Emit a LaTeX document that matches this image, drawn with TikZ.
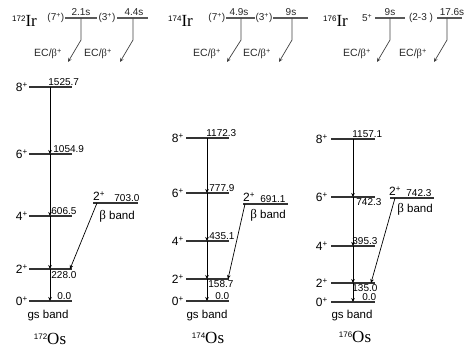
\documentclass[tikz,border=0pt]{standalone}
\usepackage{fontspec}
\setmainfont{Liberation Sans}
\newfontfamily\serif{Liberation Serif}
\usetikzlibrary{arrows.meta}
\newcommand{\spl}[1]{\textsuperscript{#1}}
\begin{document}
\begin{tikzpicture}[x=1pt,y=-1pt,
  lev/.style={line width=1.1pt,draw=black!80},
  tlev/.style={line width=1.1pt,draw=black!65},
  tr/.style={line width=0.7pt,-{Stealth[length=4pt,width=3.6pt]}},
  dec/.style={line width=0.7pt,draw=black!75,-{Stealth[length=4pt,width=3.6pt]}},
  spin/.style={font=\fontsize{12}{12}\selectfont,inner sep=0pt},
  en/.style={font=\fontsize{10}{10}\selectfont,inner sep=0.2pt},
  small/.style={font=\fontsize{10}{10}\selectfont,inner sep=0.5pt,text=black!85},
  ec/.style={font=\fontsize{10.5}{11}\selectfont,inner sep=0.5pt,text=black!85},
  band/.style={font=\fontsize{11.5}{12}\selectfont,inner sep=0pt},
  nuc/.style={inner sep=0pt}]
\useasboundingbox (0,0) rectangle (467,347);

% ================= Ir decays ==================
% panel 1
\node[nuc,anchor=base west] (ir1) at (12,27) {\raisebox{5pt}{\fontsize{8}{8}\selectfont 172}{\serif\fontsize{17}{17}\selectfont Ir}};
\node[small,anchor=east] (s11) at (65,18) {(7\spl{+})};
\node[small,anchor=center] (s12) at (107,18) {(3\spl{+})};
\coordinate (l11a) at (65,18); \coordinate (l11b) at (97,18);
\coordinate (l12a) at (117,18); \coordinate (l12b) at (148,18);
\draw[tlev] (l11a) -- (l11b);
\draw[tlev] (l12a) -- (l12b);
\node[small,anchor=south] (h11) at (81,16.5) {2.1s};
\node[small,anchor=south] (h12) at (134,16.5) {4.4s};
\coordinate (d11a) at (81,18); \coordinate (d11b) at (81,40); \coordinate (d11c) at (68,62);
\coordinate (d12a) at (133,18); \coordinate (d12b) at (133,40); \coordinate (d12c) at (120,62);
\draw[dec] (d11a) -- (d11b) -- (d11c);
\draw[dec] (d12a) -- (d12b) -- (d12c);
\node[ec,anchor=center] (e11) at (48,54) {EC/{\serif β}\spl{+}};
\node[ec,anchor=center] (e12) at (98,54) {EC/{\serif β}\spl{+}};

% panel 2
\node[nuc,anchor=base west] (ir2) at (168,27) {\raisebox{5pt}{\fontsize{8}{8}\selectfont 174}{\serif\fontsize{17}{17}\selectfont Ir}};
\node[small,anchor=east] (s21) at (226,18) {(7\spl{+})};
\node[small,anchor=center] (s22) at (264,18) {(3\spl{+})};
\coordinate (l21a) at (226,18); \coordinate (l21b) at (255,18);
\coordinate (l22a) at (273,18); \coordinate (l22b) at (308,18);
\draw[tlev] (l21a) -- (l21b);
\draw[tlev] (l22a) -- (l22b);
\node[small,anchor=south] (h21) at (239,16.5) {4.9s};
\node[small,anchor=south] (h22) at (291,16.5) {9s};
\coordinate (d21a) at (241,18); \coordinate (d21b) at (241,40); \coordinate (d21c) at (227,62);
\coordinate (d22a) at (292,18); \coordinate (d22b) at (292,40); \coordinate (d22c) at (279,62);
\draw[dec] (d21a) -- (d21b) -- (d21c);
\draw[dec] (d22a) -- (d22b) -- (d22c);
\node[ec,anchor=center] (e21) at (207,54) {EC/{\serif β}\spl{+}};
\node[ec,anchor=center] (e22) at (257,54) {EC/{\serif β}\spl{+}};

% panel 3
\node[nuc,anchor=base west] (ir3) at (323,27) {\raisebox{5pt}{\fontsize{8}{8}\selectfont 176}{\serif\fontsize{17}{17}\selectfont Ir}};
\node[small,anchor=east] (s31) at (373,18) {5\spl{+}};
\node[small,anchor=center] (s32) at (421,18) {(2-3 )};
\coordinate (l31a) at (375,18); \coordinate (l31b) at (405,18);
\coordinate (l32a) at (437,18); \coordinate (l32b) at (462,18);
\draw[tlev] (l31a) -- (l31b);
\draw[tlev] (l32a) -- (l32b);
\node[small,anchor=south] (h31) at (390,16.5) {9s};
\node[small,anchor=south] (h32) at (452,16.5) {17.6s};
\coordinate (d31a) at (390,18); \coordinate (d31b) at (390,40); \coordinate (d31c) at (377,62);
\coordinate (d32a) at (447,18); \coordinate (d32b) at (447,40); \coordinate (d32c) at (434,62);
\draw[dec] (d31a) -- (d31b) -- (d31c);
\draw[dec] (d32a) -- (d32b) -- (d32c);
\node[ec,anchor=center] (e31) at (357,54) {EC/{\serif β}\spl{+}};
\node[ec,anchor=center] (e32) at (413,54) {EC/{\serif β}\spl{+}};

% ================= 172Os ==================
\foreach \n/\y in {8/87,6/154,4/216,2/269,0/301}{
  \draw[lev] (29,\y) coordinate (a\n l) -- (72,\y) coordinate (a\n r);
  \coordinate (a\n) at (50,\y);
  \node[spin,anchor=base east] (as\n) at (28,\y+5) {\n\spl{+}};
}
\draw[tr] (a8) -- (a6);
\draw[tr] (a6) -- (a4);
\draw[tr] (a4) -- (a2);
\draw[tr] (a2) -- (a0);
\node[en,anchor=south west] (ae8) at (48,86.5) {1525.7};
\node[en,anchor=south west] (ae6) at (53,153.5) {1054.9};
\node[en,anchor=south west] (ae4) at (51,215.5) {606.5};
\node[en,anchor=north west] (ae2) at (51,271) {228.0};
\node[en,anchor=south west] (ae0) at (57,300.5) {0.0};
\draw[lev] (93,203) coordinate (abl) -- (138,203) coordinate (abr);
\coordinate (ab) at (97,203);
\coordinate (a2t) at (70,269);
\draw[tr] (ab) -- (a2t);
\node[spin,anchor=base west] (abs) at (93,201) {2\spl{+}};
\node[en,anchor=south west] (abe) at (114,202.5) {703.0};
\node[band] (abn) at (117,216) {{\serif\fontsize{13}{13}\selectfont β} band};
\node[band] (agn) at (48,316) {gs band};
\node[nuc] (aos) at (50,339) {\raisebox{5pt}{\fontsize{8}{8}\selectfont 172}{\serif\fontsize{17}{17}\selectfont Os}};

% ================= 174Os ==================
\foreach \n/\y in {8/138,6/193,4/241,2/279,0/301}{
  \draw[lev] (186,\y) coordinate (b\n l) -- (229,\y) coordinate (b\n r);
  \coordinate (b\n) at (207,\y);
  \node[spin,anchor=base east] (bs\n) at (184,\y+5) {\n\spl{+}};
}
\draw[tr] (b8) -- (b6);
\draw[tr] (b6) -- (b4);
\draw[tr] (b4) -- (b2);
\draw[tr] (b2) -- (b0);
\node[en,anchor=south west] (be8) at (206,137.5) {1172.3};
\node[en,anchor=south west] (be6) at (209,192.5) {777.9};
\node[en,anchor=south west] (be4) at (209,240.5) {435.1};
\node[en,anchor=north west] (be2) at (208,280.5) {158.7};
\node[en,anchor=south west] (be0) at (215,300.5) {0.0};
\draw[lev] (243,204) coordinate (bbl) -- (288,204) coordinate (bbr);
\coordinate (bb) at (245,204);
\coordinate (b2t) at (228,279);
\draw[tr] (bb) -- (b2t);
\node[spin,anchor=base west] (bbs) at (243,202) {2\spl{+}};
\node[en,anchor=south west] (bbe) at (260,203.5) {691.1};
\node[band] (bbn) at (268,215) {{\serif\fontsize{13}{13}\selectfont β} band};
\node[band] (bgn) at (207,316) {gs band};
\node[nuc] (bos) at (208,338) {\raisebox{5pt}{\fontsize{8}{8}\selectfont 174}{\serif\fontsize{17}{17}\selectfont Os}};

% ================= 176Os ==================
\foreach \n/\y in {8/139,6/197,4/246,2/283,0/302}{
  \draw[lev] (331,\y) coordinate (c\n l) -- (375,\y) coordinate (c\n r);
  \coordinate (c\n) at (353,\y);
  \node[spin,anchor=base east] (cs\n) at (328,\y+5) {\n\spl{+}};
}
\draw[tr] (c8) -- (c6);
\draw[tr] (c6) -- (c4);
\draw[tr] (c4) -- (c2);
\draw[tr] (c2) -- (c0);
\node[en,anchor=south west] (ce8) at (352,138.5) {1157.1};
\node[en,anchor=north west] (ce6) at (356,198.5) {742.3};
\node[en,anchor=south west] (ce4) at (352,245.5) {395.3};
\node[en,anchor=north west] (ce2) at (352,284) {135.0};
\node[en,anchor=south west] (ce0) at (362,301.5) {0.0};
\draw[lev] (390,198) coordinate (cbl) -- (434,198) coordinate (cbr);
\coordinate (cb) at (395,198);
\coordinate (c2t) at (371,283);
\draw[tr] (cb) -- (c2t);
\node[spin,anchor=base west] (cbs) at (389,196) {2\spl{+}};
\node[en,anchor=south west] (cbe) at (406,197.5) {742.3};
\node[band] (cbn) at (415,209) {{\serif\fontsize{13}{13}\selectfont β} band};
\node[band] (cgn) at (352,316) {gs band};
\node[nuc] (cos) at (355,337) {\raisebox{5pt}{\fontsize{8}{8}\selectfont 176}{\serif\fontsize{17}{17}\selectfont Os}};
\end{tikzpicture}
\end{document}
